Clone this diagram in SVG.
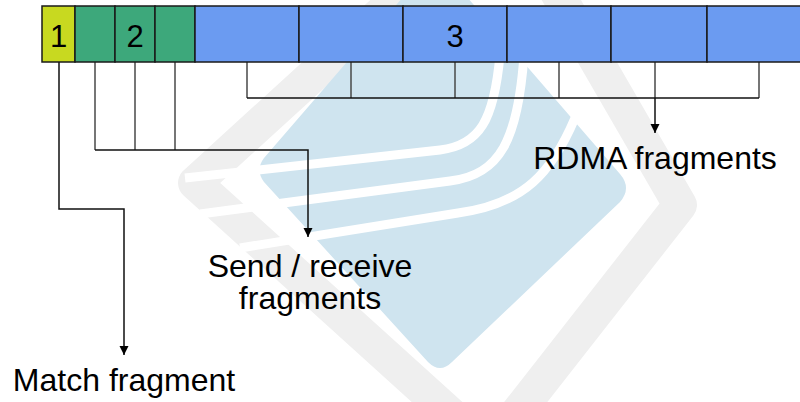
<svg xmlns="http://www.w3.org/2000/svg" width="800" height="402" viewBox="0 0 800 402">
  <defs>
    <marker id="arr" markerUnits="userSpaceOnUse" markerWidth="10" markerHeight="10" refX="9" refY="4.5" orient="auto">
      <path d="M0,0 L9,4.5 L0,9 Z" fill="#000"/>
    </marker>
    <style>
      .lbl { font-family: "Liberation Sans", Arial, sans-serif; font-size: 32px; fill: #000; text-anchor: middle; }
      .num { font-family: "Liberation Sans", Arial, sans-serif; font-size: 31px; fill: #000; text-anchor: middle; }
      .seg { stroke: #1a1a1a; stroke-width: 1.5; }
      .yel { fill: #C8D920; }
      .grn { fill: #3DA87B; }
      .blu { fill: #6B9BF1; }
      .tick { fill: none; stroke: #4a4a4a; stroke-width: 1.5; }
      .conn { fill: none; stroke: #111; stroke-width: 1.5; }
      .stripe { fill: none; stroke: #fff; stroke-width: 9; stroke-linecap: butt; }
    </style>
  </defs>
  <rect width="800" height="402" fill="#fff"/>

  <!-- watermark -->
  <g id="watermark">
    <path d="M504,-99 L680,205 L489,449 L195,183 Z" fill="none" stroke="#EFEFEF" stroke-width="34" stroke-linejoin="round"/>
    <path d="M435,-40 L620,174 Q632,188 620,202 L452,362 Q440,374 428,362 L264,182 Q255,170 264,158 Z" fill="#CFE4EF"/>
    <path class="stripe" d="M185,178 L440,150 C480,145 494,120 500,55"/>
    <path class="stripe" d="M200,214 L450,181 C500,175 518,140 524,55"/>
    <path class="stripe" d="M240,248 L458,213 C525,204 552,172 575,118"/>
  </g>

  <!-- connectors -->
  <g id="connectors">
    <path class="tick" d="M247,62 V98 M351,62 V98 M455,62 V98 M559,62 V98 M655,62 V98 M759,62 V98"/>
    <path class="conn" d="M247,98 H759"/>
    <path class="conn" d="M655,98 V133" marker-end="url(#arr)"/>
    <path class="tick" d="M95,62 V150 M135,62 V150 M175,62 V150"/>
    <path class="conn" d="M95,150 H308 V237" marker-end="url(#arr)"/>
    <path class="conn" d="M59,62 V209 H124 V355" marker-end="url(#arr)"/>
  </g>

  <!-- bar segments -->
  <g id="seg-match">
    <rect class="seg yel" x="42" y="6" width="33" height="56"/>
    <text class="num" x="58.5" y="47">1</text>
  </g>
  <g id="seg-sendrecv">
    <rect class="seg grn" x="75" y="6" width="40" height="56"/>
    <rect class="seg grn" x="115" y="6" width="40" height="56"/>
    <rect class="seg grn" x="155" y="6" width="40" height="56"/>
    <text class="num" x="135" y="47">2</text>
  </g>
  <g id="seg-rdma">
    <rect class="seg blu" x="195" y="6" width="104" height="56"/>
    <rect class="seg blu" x="299" y="6" width="104" height="56"/>
    <rect class="seg blu" x="403" y="6" width="104" height="56"/>
    <rect class="seg blu" x="507" y="6" width="104" height="56"/>
    <rect class="seg blu" x="611" y="6" width="96" height="56"/>
    <rect class="seg blu" x="707" y="6" width="100" height="56"/>
    <text class="num" x="455" y="47">3</text>
  </g>

  <!-- labels -->
  <g id="label-rdma">
    <text class="lbl" x="655" y="169">RDMA fragments</text>
  </g>
  <g id="label-sendrecv">
    <text class="lbl" x="310" y="277">Send / receive</text>
    <text class="lbl" x="310" y="309">fragments</text>
  </g>
  <g id="label-match">
    <text class="lbl" x="124" y="391">Match fragment</text>
  </g>
</svg>
